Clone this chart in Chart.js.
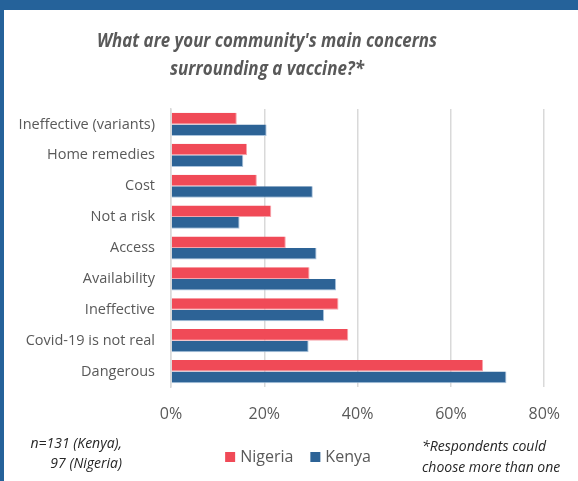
<!DOCTYPE html>
<html>
<head>
<meta charset="utf-8">
<script src="https://cdn.jsdelivr.net/npm/chart.js@4"></script>
<style>
  html, body { margin: 0; padding: 0; background: #fff; }
  body { width: 578px; height: 481px; position: relative; overflow: hidden; }
  .band-top { position: absolute; left: 0; top: 0; width: 578px; height: 10px; background: #25629A; }
  .band-left { position: absolute; left: 0; top: 0; width: 4px; height: 481px; background: #25629A; }
  .wrap { position: absolute; left: 4px; top: 10px; width: 574px; height: 471px; }
</style>
</head>
<body>
<div class="band-top"></div>
<div class="band-left"></div>
<div class="wrap"><canvas id="concernsChart"></canvas></div>
<script>
// Chart data
const concerns = ['Ineffective (variants)', 'Home remedies', 'Cost', 'Not a risk', 'Access',
  'Availability', 'Ineffective', 'Covid-19 is not real', 'Dangerous'];
const nigeriaPct = [14.1, 16.3, 18.4, 21.5, 24.6, 29.7, 35.9, 38.0, 66.9];
const kenyaPct = [20.5, 15.5, 30.4, 14.7, 31.2, 35.4, 32.8, 29.5, 71.9];
const xTicks = [0, 20, 40, 60, 80];

const titleLines = ["What are your community's main concerns", 'surrounding a vaccine?*'];
const noteLeft = ['n=131 (Kenya),', '97 (Nigeria)'];
const noteRight = ['*Respondents could', 'choose more than one'];

const GREY = '#595959';

// Title, footnotes and legend drawn on the canvas
const notesPlugin = {
  id: 'notes',
  afterDraw(chart) {
    const ctx = chart.ctx;
    ctx.save();
    ctx.fillStyle = GREY;
    ctx.textAlign = 'center';
    ctx.textBaseline = 'middle';
    ctx.font = 'italic bold 19px "Open Sans"';
    ctx.fillText(titleLines[0], 263, 32, 340);
    ctx.fillText(titleLines[1], 263, 60, 194);

    ctx.fillStyle = '#262626';
    ctx.font = 'italic 14px "Open Sans"';
    ctx.textAlign = 'right';
    ctx.fillText(noteLeft[0], 118, 434);
    ctx.fillText(noteLeft[1], 118, 454);
    ctx.textAlign = 'left';
    ctx.fillText(noteRight[0], 418, 437);
    ctx.fillText(noteRight[1], 418, 458);

    // legend, centred a little right of the canvas middle like the original
    ctx.font = '16px "Open Sans"';
    const items = chart.data.datasets.map(ds => ({ text: ds.label, color: ds.backgroundColor }));
    const box = 10, gap = 5, spacing = 17;
    const widths = items.map(it => box + gap + ctx.measureText(it.text).width);
    const total = widths.reduce((a, b) => a + b, 0) + spacing * (items.length - 1);
    let x = 294 - total / 2;
    const y = 447;
    items.forEach((it, i) => {
      ctx.fillStyle = it.color;
      ctx.fillRect(x, y - box / 2, box, box);
      ctx.fillStyle = GREY;
      ctx.fillText(it.text, x + box + gap, y);
      x += widths[i] + spacing;
    });
    ctx.restore();
  }
};

const ctx = document.getElementById('concernsChart').getContext('2d');
new Chart(ctx, {
  type: 'bar',
  data: {
    labels: concerns,
    datasets: [
      {
        label: 'Nigeria',
        data: nigeriaPct,
        backgroundColor: '#F04A57',
        borderColor: '#F7A3AA',
        borderWidth: { top: 0, left: 0, right: 1, bottom: 1 },
        categoryPercentage: 0.75,
        barPercentage: 1.0
      },
      {
        label: 'Kenya',
        data: kenyaPct,
        backgroundColor: '#2D6396',
        borderColor: '#A9C3DD',
        borderWidth: { top: 0, left: 0, right: 1, bottom: 1 },
        categoryPercentage: 0.75,
        barPercentage: 1.0
      }
    ]
  },
  options: {
    indexAxis: 'y',
    responsive: true,
    maintainAspectRatio: false,
    animation: false,
    layout: { padding: { top: 99, left: 0, right: 33, bottom: 50 } },
    plugins: {
      title: { display: false },
      tooltip: { enabled: false },
      legend: { display: false }
    },
    scales: {
      x: {
        min: 0,
        max: 80,
        afterBuildTicks(scale) {
          scale.ticks = xTicks.map(v => ({ value: v }));
        },
        afterFit(scale) { scale.height = 44; },
        ticks: {
          color: GREY,
          font: { family: 'Open Sans', size: 16 },
          padding: 18,
          callback: v => v + '%'
        },
        grid: { color: '#D9D9D9', lineWidth: 1.5, drawTicks: false },
        border: { display: false }
      },
      y: {
        afterFit(scale) { scale.width = 167; },
        ticks: {
          color: GREY,
          font: { family: 'Open Sans', size: 14.5 },
          padding: 16
        },
        grid: { display: false, drawTicks: false },
        border: { display: true, color: '#D9D9D9', width: 1.5 }
      }
    }
  },
  plugins: [notesPlugin]
});
</script>
</body>
</html>
